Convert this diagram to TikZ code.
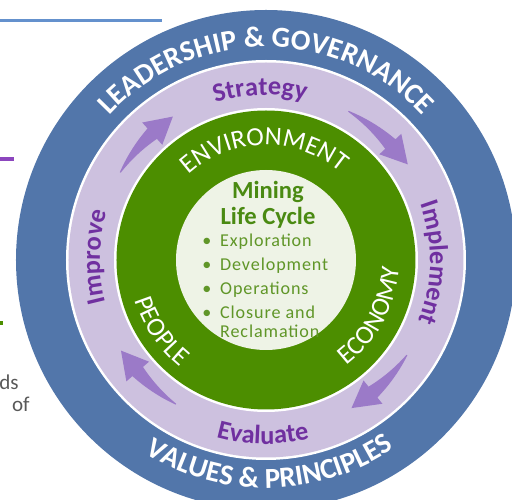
\documentclass[tikz,border=0pt]{standalone}
\usepackage{fontspec}
\setmainfont{Carlito}
\usepackage{tikz}
\usetikzlibrary{decorations.text, positioning}

\definecolor{ringblue}{RGB}{82,118,170}
\definecolor{ringlilac}{RGB}{205,193,223}
\definecolor{ringgreen}{RGB}{76,142,0}
\definecolor{corepale}{RGB}{238,243,230}
\definecolor{cyclepurple}{RGB}{112,48,160}
\definecolor{arrowpurple}{RGB}{155,122,200}
\definecolor{titlegreen}{RGB}{74,138,18}
\definecolor{stepgreen}{RGB}{96,150,40}
\definecolor{lineblue}{RGB}{100,145,205}
\definecolor{linepurple}{RGB}{140,70,190}
\definecolor{fraggray}{RGB}{89,89,89}

\newcommand{\bluefont}{\bfseries\fontsize{16.5}{18}\selectfont}
\newcommand{\cyclefont}{\bfseries\fontsize{15}{17}\selectfont}
\newcommand{\greenfont}{\fontsize{15}{17}\selectfont}
\newcommand{\cyclearrow}[2]{%
  \fill[arrowpurple] plot[domain=0:1, samples=25] ({(#1)+((#2)+9-(#1))*\x}:{170.5+6.5*\x})
    -- ({(#2)+9}:185) -- (#2:171) -- ({(#2)+9}:155)
    -- plot[domain=1:0, samples=25] ({(#1)+((#2)+9-(#1))*\x}:{169.5-6.5*\x}) -- cycle;}

\begin{document}
\begin{tikzpicture}[x=0.02cm, y=0.02cm,
    ringtext/.style={decorate, decoration={text along path, text align=center,
        text color=white, text={#1}}},
    cycletext/.style={decorate, decoration={text along path, text align=center,
        text color=cyclepurple, text={#1}}}]
  \useasboundingbox (-266,-240) rectangle (246,260);

  \draw[lineblue, line width=2pt] (-266,239.3) -- (-104,239.3);
  \draw[linepurple, line width=2pt] (-266,101) -- (-252,101);
  \draw[ringgreen, line width=2pt] (-266,-63) -- (-263,-63);
  \node[anchor=base east, text=fraggray, font=\fontsize{12}{14}\selectfont, inner sep=0pt] (frag1) at (-247,-130) {ds};
  \node[anchor=base east, text=fraggray, font=\fontsize{12}{14}\selectfont, inner sep=0pt] (frag2) at (-236,-152) {of};

  \fill[ringblue] (0,0) circle[radius=250];
  \fill[white] (0,0) circle[radius=200];
  \fill[ringlilac] (0,0) circle[radius=197.5];
  \fill[white] (0,0) circle[radius=152];
  \fill[ringgreen] (0,0) circle[radius=149.5];
  \fill[corepale] (0,0) circle[radius=90];

  \path[ringtext={|\bluefont|LEADERSHIP {\&} GOVERNANCE}] (180:213) arc[start angle=180, end angle=0, radius=213];
  \path[ringtext={|\bluefont|VALUES {\&} PRINCIPLES}] (181:228) arc[start angle=181, end angle=361, radius=228];

  \path[cycletext={|\cyclefont|Strategy}] (182:165) arc[start angle=182, end angle=2, radius=165];
  \path[cycletext={|\cyclefont|Implement}] (89:164) arc[start angle=89, end angle=-91, radius=164];
  \path[cycletext={|\cyclefont|Evaluate}] (179:184) arc[start angle=179, end angle=359, radius=184];
  \path[cycletext={|\cyclefont|Improve}] (269:166) arc[start angle=269, end angle=89, radius=166];

  \cyclearrow{149}{123}
  \cyclearrow{61}{34}
  \cyclearrow{-34}{-60}
  \cyclearrow{-122}{-148}

  \path[ringtext={|\greenfont|ENVIRONMENT}] (181:115) arc[start angle=181, end angle=1, radius=115];
  \path[ringtext={|\greenfont|ECONOMY}] (-118:133) arc[start angle=-118, end angle=62, radius=133];
  \path[ringtext={|\greenfont|PEOPLE}] (124:137) arc[start angle=124, end angle=304, radius=137];

  \node[align=center, text=titlegreen, font=\bfseries\fontsize{14}{14.5}\selectfont] (title) at (2,55) {Mining\\Life Cycle};
  \node[anchor=west, text=stepgreen, inner sep=0pt, font=\fontsize{10.3}{11}\selectfont\addfontfeature{LetterSpace=5}] (steps) at (-64,-28)
    {\begin{tabular}{@{}l@{\hspace{5pt}}l@{}}
      \textbullet & Exploration\\[2.6pt]
      \textbullet & Development\\[2.6pt]
      \textbullet & Operations\\[2.6pt]
      \textbullet & Closure and\\
                  & Reclamation
    \end{tabular}};
\end{tikzpicture}
\end{document}
